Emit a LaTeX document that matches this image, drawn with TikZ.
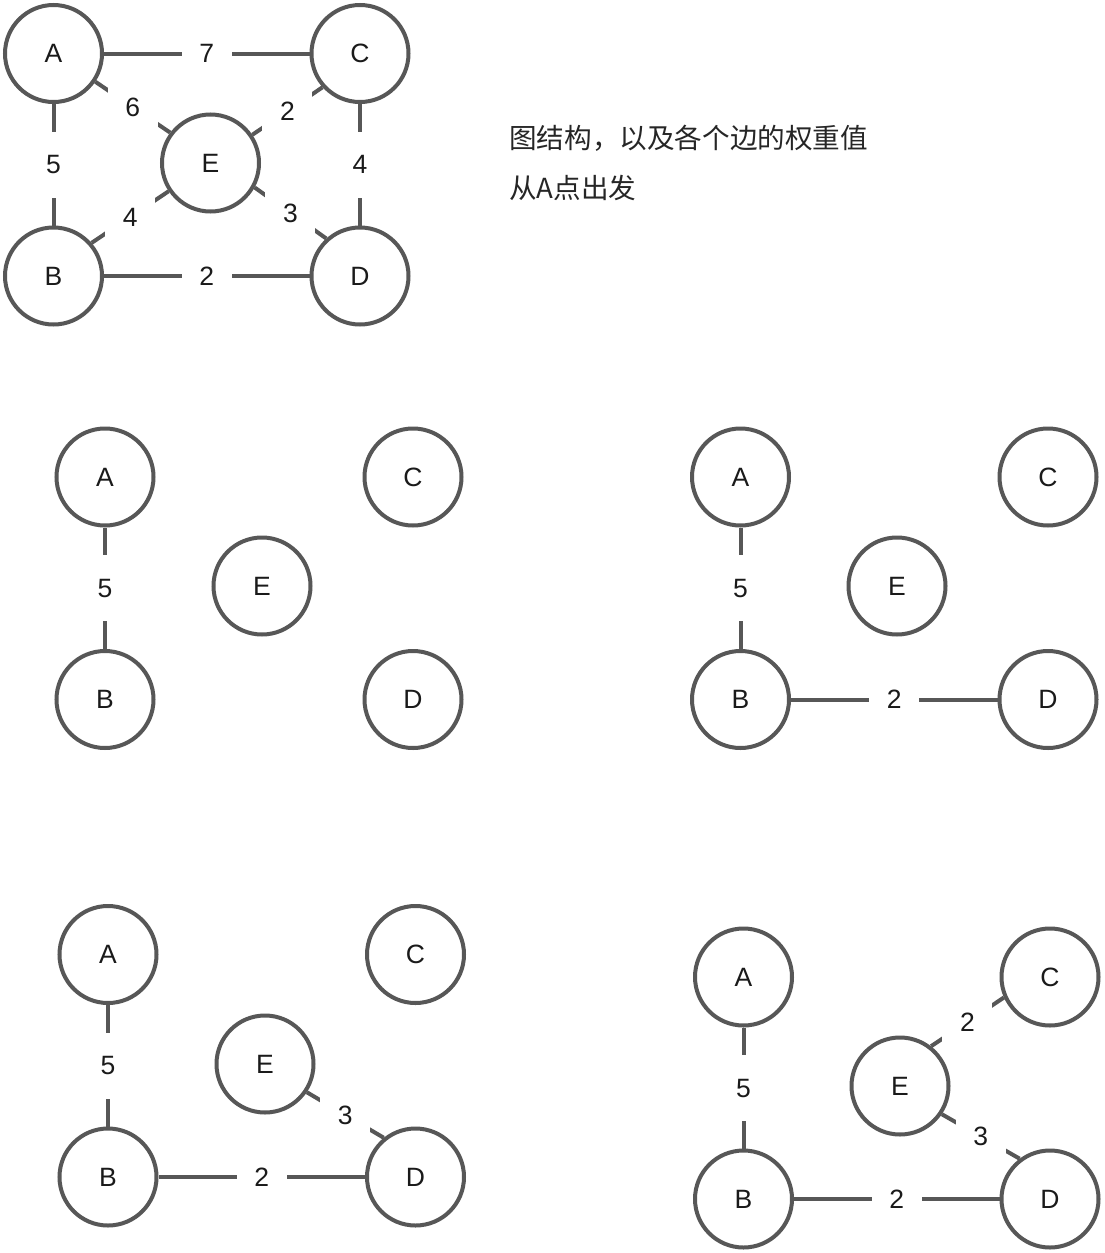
\documentclass[tikz,border=0pt]{standalone}
\usepackage{fontspec}
\setmainfont{Liberation Sans}
\newfontfamily\cjk{Noto Sans CJK SC}
\usetikzlibrary{backgrounds}
\definecolor{edgegray}{HTML}{575757}
\definecolor{txt}{HTML}{1A1A1A}
\definecolor{cjktxt}{HTML}{262626}
\tikzset{
  vtx/.style={circle, draw=edgegray, line width=4pt, fill=white, minimum size=97pt,
    inner sep=0pt, font=\fontsize{26.5}{26.5}\selectfont, text=txt},
  link/.style={draw=edgegray, line width=4pt},
  wlab/.style={fill=white, minimum width=50pt, minimum height=66pt, inner sep=0pt,
    font=\fontsize{26.5}{26.5}\selectfont, text=txt},
  cjktext/.style={inner sep=0pt, anchor=west, font=\cjk\fontsize{27.6}{30}\selectfont, text=cjktxt},
}
\begin{document}
\begin{tikzpicture}[x=1pt,y=-1pt]
\useasboundingbox (0,0) rectangle (1105,1253);
% graph 1
\node[vtx] (A1) at (53.5,53.5) {A};
\node[vtx] (C1) at (360,53.5) {C};
\node[vtx] (E1) at (210.5,163) {E};
\node[vtx] (B1) at (53.5,276) {B};
\node[vtx] (D1) at (360,276) {D};
% graph 2
\node[vtx] (A2) at (105,477) {A};
\node[vtx] (C2) at (413,477) {C};
\node[vtx] (E2) at (262,586) {E};
\node[vtx] (B2) at (105,699.5) {B};
\node[vtx] (D2) at (413,699.5) {D};
% graph 3
\node[vtx] (A3) at (740.5,477) {A};
\node[vtx] (C3) at (1048,477) {C};
\node[vtx] (E3) at (897,586) {E};
\node[vtx] (B3) at (740.5,699.5) {B};
\node[vtx] (D3) at (1048,699.5) {D};
% graph 4
\node[vtx] (A4) at (108,954.5) {A};
\node[vtx] (C4) at (415.5,954.5) {C};
\node[vtx] (E4) at (265,1064) {E};
\node[vtx] (B4) at (108,1177) {B};
\node[vtx] (D4) at (415.5,1177) {D};
% graph 5
\node[vtx] (A5) at (743.5,977) {A};
\node[vtx] (C5) at (1050,977) {C};
\node[vtx] (E5) at (900,1086) {E};
\node[vtx] (B5) at (743.5,1199) {B};
\node[vtx] (D5) at (1050,1199) {D};
% text
\node[cjktext] (t1) at (509,138) {图结构，以及各个边的权重值};
\node[cjktext] (t2) at (509,188) {从A点出发};
\begin{scope}[on background layer]
\fill[white] (0,0) rectangle (1105,1253);
% graph 1 edges
\draw[link] (A1) -- node[wlab]{7} (C1);
\draw[link] (A1) -- node[wlab]{5} (B1);
\draw[link] (C1) -- node[wlab]{4} (D1);
\draw[link] (B1) -- node[wlab]{2} (D1);
\draw[link] (A1.326) -- node[wlab]{6} (E1.143);
\draw[link] (E1.34) -- node[wlab]{2} (C1.222);
\draw[link] (B1.41) -- node[wlab]{4} (E1.214);
\draw[link] (E1.331) -- node[wlab]{3} (D1.132);
% graph 2 edges
\draw[link] (A2) -- node[wlab]{5} (B2);
% graph 3 edges
\draw[link] (A3) -- node[wlab]{5} (B3);
\draw[link] (B3) -- node[wlab]{2} (D3);
% graph 4 edges
\draw[link] (A4) -- node[wlab]{5} (B4);
\draw[link] (B4) -- node[wlab]{2} (D4);
\draw[link] (E4.326) -- node[wlab]{3} (D4.129);
% graph 5 edges
\draw[link] (A5) -- node[wlab]{5} (B5);
\draw[link] (B5) -- node[wlab]{2} (D5);
\draw[link] (E5.52) -- node[wlab]{2} (C5.204);
\draw[link] (E5.326) -- node[wlab]{3} (D5.127);
\end{scope}
\end{tikzpicture}
\end{document}
